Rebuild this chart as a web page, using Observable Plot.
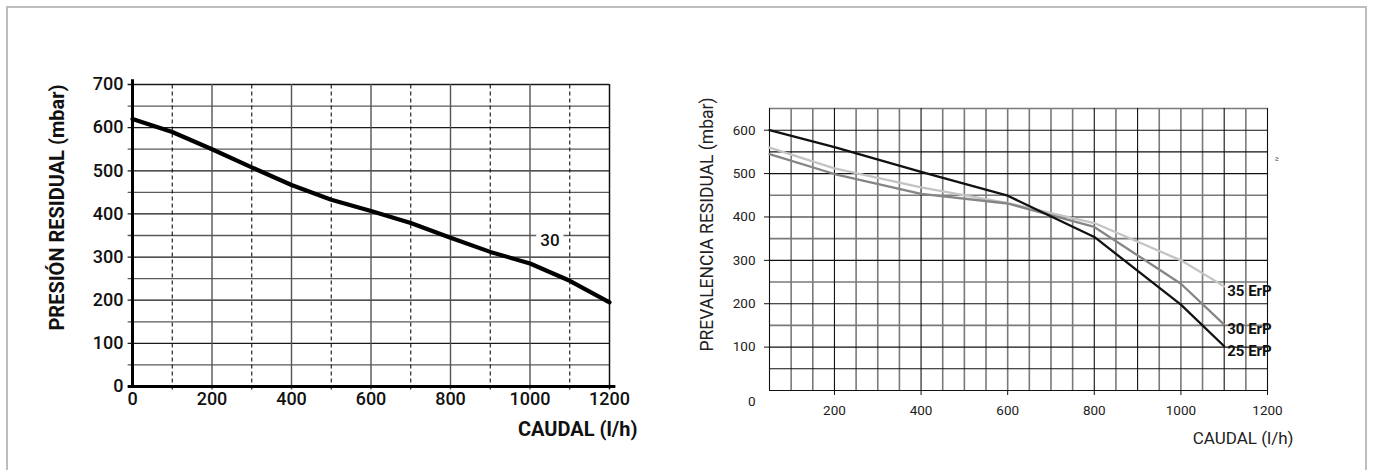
<!DOCTYPE html>
<html><head><meta charset="utf-8">
<script src="https://cdn.jsdelivr.net/npm/d3@7"></script>
<script src="https://cdn.jsdelivr.net/npm/@observablehq/plot@0.6"></script>
<style>
body{margin:0;background:#fff;font-family:Roboto,sans-serif;}
#wrap{position:relative;width:1373px;height:470px;overflow:hidden;}
#frame{position:absolute;left:6px;top:6px;width:1361px;height:480px;border:2px solid #bdbdbd;box-sizing:border-box;}
#left{position:absolute;left:0;top:0;}
#right{position:absolute;left:680px;top:0;}
svg{overflow:visible;}
</style></head><body>
<div id="wrap"><div id="frame"></div><div id="left"></div><div id="right"></div></div>
<script>
// ---------- Left chart data ----------
const leftFlow = [0, 100, 200, 300, 400, 500, 600, 700, 800, 900, 1000, 1100, 1200];
const leftPressure = [620, 590, 550, 508, 467, 433, 407, 379, 345, 312, 285, 245, 195];
const leftXTicks = [0, 200, 400, 600, 800, 1000, 1200];
const leftYTicks = [0, 100, 200, 300, 400, 500, 600, 700];
const leftLabelText = "30";
const leftLabelFlow = 1050;
const leftLabelPressure = 338;
const leftYTitle = "PRESIÓN RESIDUAL (mbar)";
const leftXTitle = "CAUDAL (l/h)";

// ---------- Right chart data ----------
const rightFlow = [50, 200, 400, 600, 800, 1000, 1100];
const erp35 = [560, 512, 468, 432, 386, 300, 240];
const erp30 = [545, 499, 453, 431, 377, 246, 152];
const erp25 = [600, 561, 504, 449, 354, 198, 102];
const seriesNames = ["35 ErP", "30 ErP", "25 ErP"];
const rightXTicks = [200, 400, 600, 800, 1000, 1200];
const rightYTicks = [100, 200, 300, 400, 500, 600];
const rightYTitle = "PREVALENCIA RESIDUAL (mbar)";
const rightXTitle = "CAUDAL (l/h)";

const fmt = d => String(d);

// ---------- Left chart ----------
const leftData = leftFlow.map((f, i) => ({flow: f, pressure: leftPressure[i]}));
const hLeft = d3.range(50, 701, 50);
const dashedLeft = [100, 300, 500, 700, 900, 1100];
const solidLeft = [200, 400, 600, 800, 1000];

const left = Plot.plot({
  width: 680, height: 470,
  marginLeft: 132, marginRight: 71, marginTop: 84, marginBottom: 84,
  style: {fontFamily: "Roboto, sans-serif", color: "#111", background: "transparent"},
  x: {domain: [0, 1200], axis: null},
  y: {domain: [0, 700], axis: null},
  marks: [
    Plot.ruleY(hLeft, {x1: -11, x2: 1200, stroke: d => d % 100 === 0 ? "#1a1a1a" : "#5a5a5a", strokeWidth: 1.3}),
    Plot.ruleX(solidLeft, {y1: -8, y2: 700, stroke: "#555", strokeWidth: 1.4}),
    Plot.ruleX([1200], {y1: -8, y2: 700, stroke: "#111", strokeWidth: 1.5}),
    Plot.ruleX(dashedLeft, {y1: -8, y2: 700, stroke: "#111", strokeWidth: 1.1, strokeDasharray: "4,3"}),
    Plot.ruleX([0], {y1: -2, y2: 711, stroke: "#000", strokeWidth: 3}),
    Plot.ruleY([0], {x1: -11, x2: 1216, stroke: "#000", strokeWidth: 3}),
    Plot.line(leftData, {x: "flow", y: "pressure", stroke: "#000", strokeWidth: 4.2}),
    Plot.text([leftLabelText], {x: leftLabelFlow, y: leftLabelPressure, text: d => d, fontSize: 17, fontWeight: 500, fill: "#111", stroke: "white", strokeWidth: 10, paintOrder: "stroke"}),
    Plot.axisY(leftYTicks, {tickSize: 0, tickPadding: 9, fontSize: 18, fontWeight: 500, label: null, tickFormat: fmt}),
    Plot.axisX(leftXTicks, {tickSize: 0, tickPadding: 6, fontSize: 18, fontWeight: 500, label: null, tickFormat: fmt}),
    Plot.text([leftYTitle], {frameAnchor: "left", rotate: -90, textAnchor: "middle", lineAnchor: "middle", dx: -75, dy: -28, fontSize: 20, fontWeight: 700, fill: "#111"}),
    Plot.text([leftXTitle], {frameAnchor: "bottom-right", textAnchor: "end", lineAnchor: "middle", dx: 28, dy: 43, fontSize: 20, fontWeight: 700, fill: "#111"})
  ]
});
document.getElementById("left").append(left);

// ---------- Right chart ----------
const rightData = [];
[erp35, erp30, erp25].forEach((vals, s) => {
  rightFlow.forEach((f, i) => rightData.push({series: seriesNames[s], flow: f, pressure: vals[i]}));
});
const vRight = d3.range(50, 1201, 50);
const vBlack = [50, 200, 400, 800, 900, 1100, 1200];
const hRight = d3.range(0, 651, 50);
const hGray = [150, 250, 350, 450, 650];

const right = Plot.plot({
  width: 693, height: 470,
  marginLeft: 89, marginRight: 106, marginTop: 108, marginBottom: 80,
  style: {fontFamily: "Roboto, sans-serif", color: "#222", background: "transparent"},
  x: {domain: [50, 1200], axis: null},
  y: {domain: [0, 650], axis: null},
  color: {domain: seriesNames, range: ["#c4c4c4", "#858585", "#111111"]},
  marks: [
    Plot.ruleX(vRight.filter(d => !vBlack.includes(d)), {y1: 0, y2: 650, stroke: "#7a7a7a", strokeWidth: 1.6}),
    Plot.ruleY(hRight.filter(d => hGray.includes(d)), {x1: 50, x2: 1200, stroke: "#7a7a7a", strokeWidth: 1.6}),
    Plot.ruleY(hRight.filter(d => !hGray.includes(d)), {x1: 50, x2: 1200, stroke: "#111", strokeWidth: 1.1}),
    Plot.ruleX(vBlack, {y1: 0, y2: 650, stroke: "#111", strokeWidth: 1.1}),
    Plot.line(rightData, {x: "flow", y: "pressure", z: "series", stroke: "series", strokeWidth: 2.3}),
    Plot.text(rightData, Plot.selectLast({x: "flow", y: "pressure", z: "series", text: "series", textAnchor: "start", dx: 3, dy: 5, fontSize: 15, fontWeight: 700, fill: "#111"})),
    Plot.axisY(rightYTicks, {tickSize: 5, tickPadding: 9, fontSize: 13.5, label: null, stroke: "#111", tickFormat: fmt}),
    Plot.text(["0"], {frameAnchor: "bottom-left", textAnchor: "end", lineAnchor: "middle", dx: -14, dy: 11, fontSize: 13.5, fill: "#222"}),
    Plot.axisX(rightXTicks, {tickSize: 5, tickPadding: 10, fontSize: 13.5, label: null, stroke: "#111", tickFormat: fmt}),
    Plot.text([rightYTitle], {frameAnchor: "left", rotate: -90, textAnchor: "middle", lineAnchor: "middle", dx: -62, dy: -25, fontSize: 17.5, fill: "#222"}),
    Plot.text([rightXTitle], {frameAnchor: "bottom-right", textAnchor: "end", lineAnchor: "middle", dx: 26, dy: 48, fontSize: 17, fill: "#222"}),
    Plot.text(["≥"], {frameAnchor: "top-right", textAnchor: "start", lineAnchor: "middle", dx: 7, dy: 50, fontSize: 8, fill: "#333"})
  ]
});
document.getElementById("right").append(right);
</script>
</body></html>
